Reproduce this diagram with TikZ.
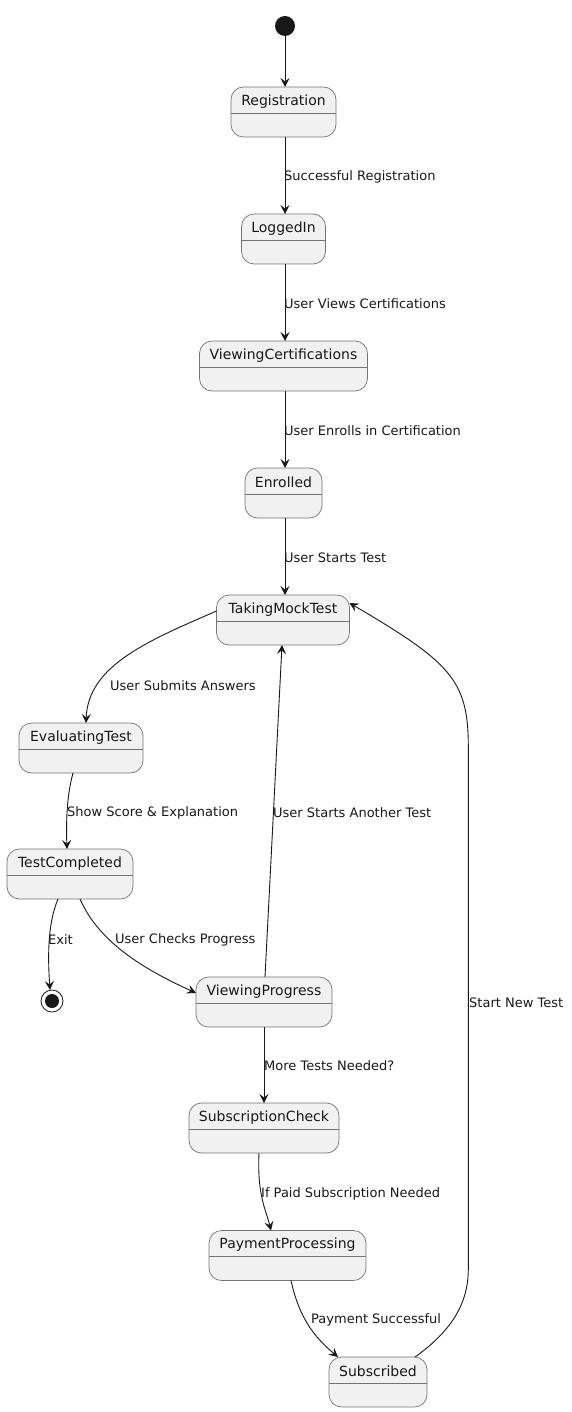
\documentclass[tikz,border=0pt]{standalone}
\usepackage{fontspec}
\setmainfont{DejaVu Sans}
\usetikzlibrary{arrows.meta}
\definecolor{stfill}{HTML}{F1F1F1}
\definecolor{stline}{HTML}{181818}
\tikzset{
  stbox/.style={draw=stline!60, line width=0.7pt, fill=stfill, rounded corners=12.5pt, minimum height=50pt, inner sep=0pt, outer sep=0pt},
  divider/.style={draw=stline!60, line width=0.7pt},
  sttext/.style={font=\fontsize{14}{16}\selectfont, inner sep=0pt, text=stline},
  edge/.style={draw=stline, line width=0.9pt, -{Stealth[length=9pt,width=9pt,inset=3.5pt]}},
  lab/.style={font=\fontsize{13}{15}\selectfont, anchor=west, inner sep=0pt, text=stline, yshift=-1.5pt},
}
\newcommand\mystate[5]{%
  \node[stbox, minimum width=#4pt, anchor=north] (#1) at (#2,#3) {};
  \draw[divider] ([yshift=-26pt]#1.north west) -- ([yshift=-26pt]#1.north east);
  \node[sttext] (#1-t) at ([yshift=-14.5pt]#1.north) {#5};
}
\begin{document}
\begin{tikzpicture}[x=1pt,y=-1pt]
\useasboundingbox (0,0) rectangle (572,1412);
% start / end
\node[circle, fill=stline, minimum size=20pt, inner sep=0pt] (start) at (285,26) {};
\node[circle, draw=stline, line width=0.8pt, fill=white, minimum size=22pt, inner sep=0pt] (end) at (52,1001) {};
\node[circle, fill=stline, minimum size=14pt, inner sep=0pt] (endin) at (52,1001) {};
% states
\mystate{reg}{283.5}{87}{105}{Registration}
\mystate{log}{283.5}{214}{84}{LoggedIn}
\mystate{vc}{283.5}{341}{168}{ViewingCertifications}
\mystate{enr}{283.5}{468}{77}{Enrolled}
\mystate{tmt}{283}{595}{133}{TakingMockTest}
\mystate{ev}{81}{723}{124}{EvaluatingTest}
\mystate{tc}{70}{849}{126}{TestCompleted}
\mystate{vp}{264}{977}{136}{ViewingProgress}
\mystate{sc}{264}{1103}{150}{SubscriptionCheck}
\mystate{pp}{287.5}{1230.5}{157}{PaymentProcessing}
\mystate{sub}{378}{1357}{98}{Subscribed}
% edges
\draw[edge] (start) -- (start |- reg.north);
\draw[edge] (reg.south -| start) -- (log.north -| start);
\node[lab] (l1) at (284,175) {Successful Registration};
\draw[edge] (log.south -| start) -- (vc.north -| start);
\node[lab] (l2) at (284,302) {User Views Certifications};
\draw[edge] (vc.south -| start) -- (enr.north -| start);
\node[lab] (l3) at (284,429) {User Enrolls in Certification};
\draw[edge] (enr.south -| start) -- (tmt.north -| start);
\node[lab] (l4) at (284,556) {User Starts Test};
\draw[edge] ([yshift=9pt]tmt.west) .. controls (150,640) and (88,665) .. (86,723);
\node[lab] (l5) at (110,684) {User Submits Answers};
\draw[edge] (73,773) .. controls (67,795) and (66,820) .. (67,849);
\node[lab] (l6) at (67,811) {Show Score \& Explanation};
\draw[edge] (58,899) .. controls (47,925) and (48,960) .. (50,990);
\node[lab] (l7) at (48,938) {Exit};
\draw[edge] (80,899) .. controls (100,945) and (150,972) .. ([yshift=9pt]vp.west);
\node[lab] (l8) at (115,938) {User Checks Progress};
\draw[edge] (265,977) -- (282,645);
\node[lab] (l9) at (273,811) {User Starts Another Test};
\draw[edge] (vp.south) -- (sc.north);
\node[lab] (l10) at (264,1064) {More Tests Needed?};
\draw[edge] (259,1153) .. controls (257,1195) and (266,1210) .. (271,1230.5);
\node[lab] (l11) at (261,1192) {If Paid Subscription Needed};
\draw[edge] (291,1280.5) .. controls (300,1322) and (318,1340) .. (338,1357);
\node[lab] (l12) at (311,1318) {Payment Successful};
\draw[edge] (415,1357) .. controls (450,1332) and (468,1305) .. (468.3,1270) -- (468.3,745) .. controls (468,680) and (450,662) .. ([yshift=17pt]tmt.east);
\node[lab] (l13) at (469,1001) {Start New Test};
\end{tikzpicture}
\end{document}
